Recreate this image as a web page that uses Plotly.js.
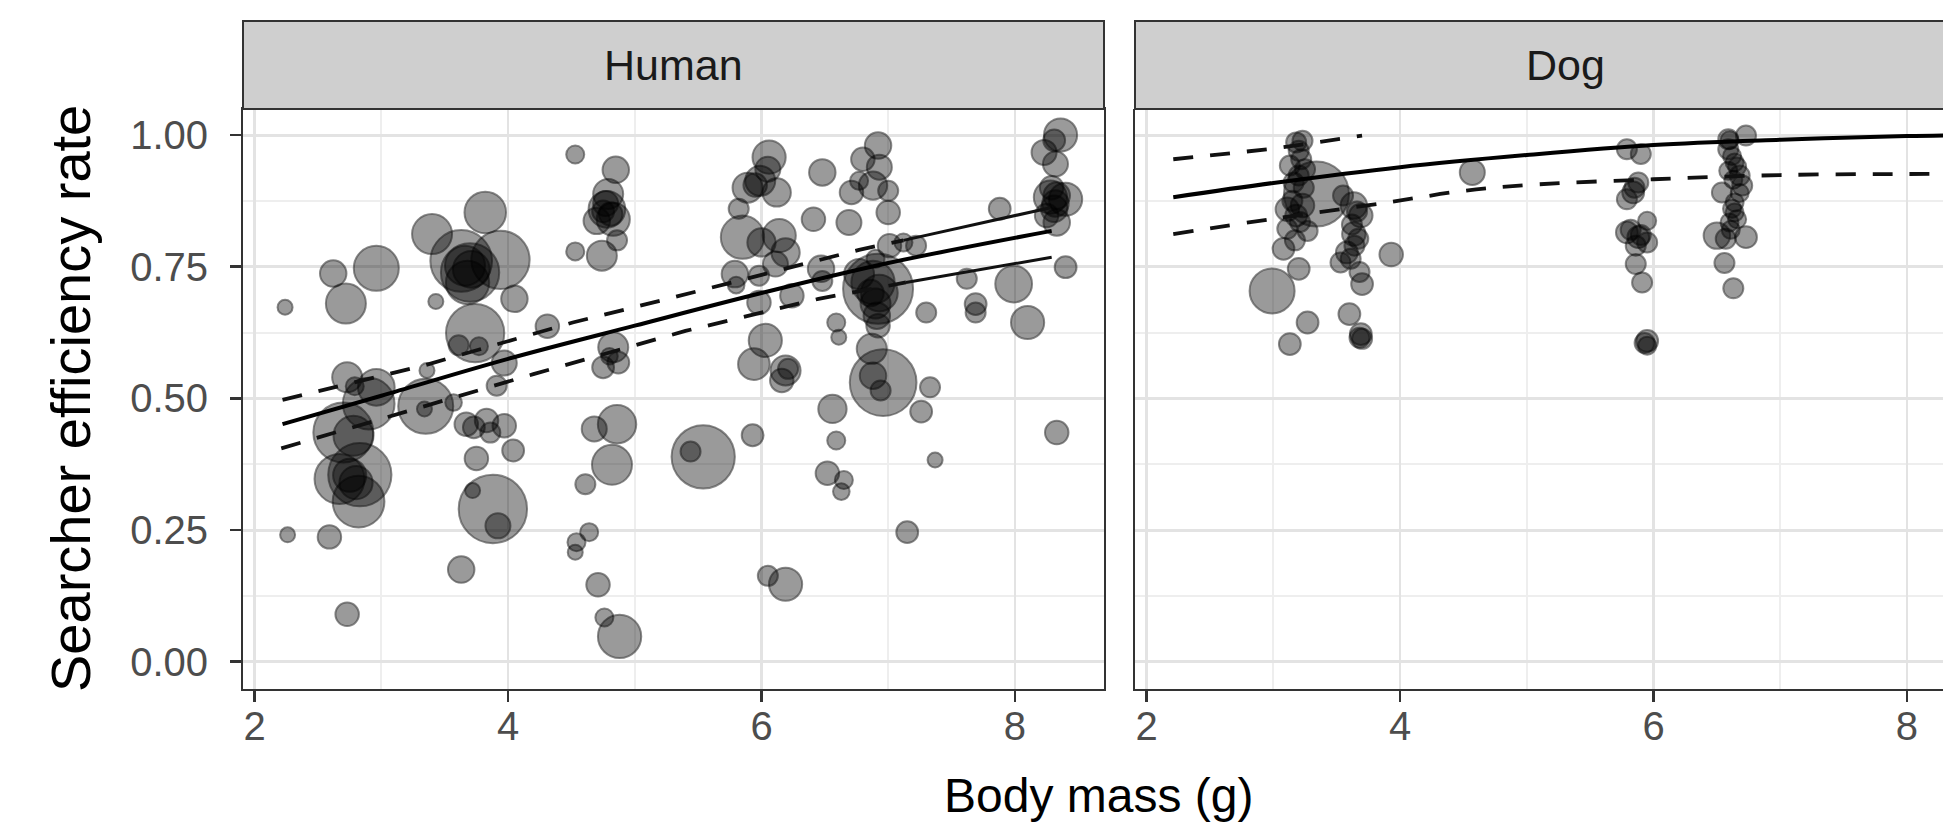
<!DOCTYPE html>
<html>
<head>
<meta charset="utf-8">
<script src="https://cdn.plot.ly/plotly-3.0.1.min.js"></script>
<style>
  html, body { margin: 0; padding: 0; background: #ffffff; }
  #chart { width: 1943px; height: 824px; }
</style>
</head>
<body>
<div id="chart"></div>
<script>
// ---------------- Data: Human panel ----------------
const humanMass = [
  2.24, 2.62, 2.72, 2.96, 3.40, 3.82, 3.94, 3.63, 3.70, 3.66, 3.68, 3.43, 4.05, 3.74, 3.61, 3.77, 3.97, 3.91, 4.31,
  4.53, 4.85, 4.78, 4.79, 4.70, 4.83, 4.86, 4.53, 4.74, 4.83, 4.75, 4.87, 4.80,
  2.73, 2.96, 2.79, 3.36,
  2.70, 2.78, 2.67, 2.82, 2.83, 2.75, 2.90, 3.35, 3.34, 3.57, 3.67, 3.73, 3.83, 3.86, 3.97, 4.04, 3.75,
  3.88, 3.92, 3.72, 3.63, 2.26, 2.59, 2.73,
  4.86, 4.68, 4.82, 4.61, 4.64, 4.54, 4.53, 4.71, 4.76, 4.88,
  5.54, 5.44, 5.93, 6.56, 7.26, 6.59, 7.37, 6.52, 6.65, 6.63, 7.15, 6.05, 6.19, 8.33,
  6.06, 6.05, 5.89, 5.99, 6.12, 5.82, 6.48, 6.92, 6.80, 6.93, 6.77, 6.88, 6.71, 7.00, 7.00,
  6.41, 6.69, 5.85, 6.00, 6.14, 6.19, 6.11, 5.79, 5.98, 5.80, 6.47, 6.48, 5.98, 6.24,
  6.59, 6.61, 6.03, 5.94, 6.19, 6.21, 6.16, 6.87, 6.96, 6.88, 6.94, 7.33,
  6.92, 6.88, 6.93, 6.91, 6.92, 6.77, 7.01, 7.22, 6.90, 7.12,
  7.62, 7.69, 7.69, 7.99, 8.10, 7.88, 7.30,
  8.36, 8.23, 8.32, 8.31, 8.28, 8.40, 8.33, 8.31, 8.33, 8.25, 8.40,
  4.77, 4.81, 4.75, 8.32, 8.29, 6.90, 6.86, 5.95, 3.71, 2.80
];
const humanRate = [
  0.673, 0.737, 0.680, 0.747, 0.812, 0.853, 0.763, 0.761, 0.739, 0.752, 0.720, 0.684, 0.689, 0.624, 0.601, 0.599, 0.567, 0.524, 0.637,
  0.963, 0.934, 0.859, 0.888, 0.837, 0.840, 0.800, 0.779, 0.771, 0.597, 0.559, 0.568, 0.580,
  0.540, 0.521, 0.523, 0.553,
  0.435, 0.429, 0.347, 0.304, 0.355, 0.354, 0.490, 0.485, 0.480, 0.492, 0.451, 0.445, 0.458, 0.435, 0.448, 0.401, 0.386,
  0.290, 0.258, 0.325, 0.175, 0.241, 0.237, 0.090,
  0.451, 0.442, 0.374, 0.337, 0.246, 0.227, 0.208, 0.146, 0.084, 0.048,
  0.389, 0.399, 0.430, 0.480, 0.475, 0.420, 0.383, 0.358, 0.345, 0.323, 0.246, 0.163, 0.147, 0.435,
  0.958, 0.935, 0.900, 0.913, 0.891, 0.860, 0.929, 0.980, 0.954, 0.939, 0.913, 0.904, 0.891, 0.894, 0.853,
  0.840, 0.834, 0.806, 0.796, 0.809, 0.777, 0.755, 0.736, 0.733, 0.715, 0.746, 0.723, 0.682, 0.695,
  0.644, 0.616, 0.610, 0.565, 0.553, 0.556, 0.534, 0.594, 0.530, 0.543, 0.515, 0.521,
  0.708, 0.720, 0.700, 0.657, 0.638, 0.736, 0.790, 0.790, 0.765, 0.796,
  0.727, 0.679, 0.663, 0.717, 0.644, 0.860, 0.663,
  1.000, 0.967, 0.945, 0.990, 0.882, 0.878, 0.885, 0.860, 0.834, 0.847, 0.749,
  0.870, 0.850, 0.855, 0.870, 0.900, 0.680, 0.700, 0.905, 0.745, 0.340
];
const humanTrials = [
  9, 28, 64, 81, 64, 69, 136, 152, 136, 64, 75, 9, 28, 136, 16, 13, 25, 16, 22,
  13, 28, 54, 36, 28, 44, 16, 13, 36, 36, 19, 19, 11,
  36, 54, 13, 9,
  144, 64, 100, 107, 160, 44, 107, 121, 9, 11, 22, 19, 22, 16, 22, 19, 22,
  187, 25, 9, 28, 9, 22, 22,
  59, 25, 64, 16, 13, 13, 9, 22, 13, 75,
  160, 16, 19, 32, 19, 13, 9, 22, 13, 11, 19, 16, 44, 22,
  44, 25, 36, 36, 32, 16, 28, 28, 22, 25, 13, 32, 22, 16, 22,
  22, 25, 75, 32, 44, 32, 25, 28, 16, 11, 28, 16, 22, 22,
  13, 9, 44, 40, 36, 16, 22, 36, 178, 28, 16, 16,
  196, 75, 54, 28, 22, 36, 22, 16, 13, 13,
  16, 19, 16, 54, 44, 19, 16,
  44, 25, 25, 19, 44, 44, 28, 28, 28, 22, 19,
  25, 22, 19, 28, 22, 36, 28, 22, 54, 44
];

// ---------------- Data: Dog panel ----------------
const dogMass = [
  3.18, 3.23, 3.13, 3.22, 3.25, 3.20, 3.34, 3.11, 3.23, 3.18, 3.11, 3.27, 3.08, 3.20, 2.99, 3.27, 3.13,
  3.635, 3.55, 3.69, 3.635, 3.67, 3.58, 3.53, 3.70, 3.60, 3.69, 3.70, 3.93, 4.57,
  5.79, 5.90, 5.88, 5.84, 5.79, 5.95, 5.79, 5.88, 5.95, 5.86, 5.91, 5.95, 5.95,
  6.59, 6.73, 6.59, 6.64, 6.59, 6.68, 6.70, 6.54, 6.64, 6.64, 6.60, 6.50, 6.73, 6.57, 6.56, 6.63,
  3.20, 3.16, 3.24, 3.15, 3.21, 3.17,
  3.66, 3.62, 3.64, 3.61, 3.68, 3.68,
  5.85, 5.82, 5.90, 5.86, 5.93,
  6.62, 6.66, 6.63, 6.68, 6.62, 6.66, 6.61, 6.60
];
const dogRate = [
  0.986, 0.989, 0.942, 0.954, 0.935, 0.923, 0.888, 0.859, 0.866, 0.847, 0.822, 0.818, 0.784, 0.746, 0.704, 0.644, 0.603,
  0.866, 0.885, 0.847, 0.812, 0.803, 0.777, 0.758, 0.717, 0.660, 0.622, 0.613, 0.773, 0.929,
  0.973, 0.964, 0.910, 0.891, 0.878, 0.837, 0.815, 0.806, 0.796, 0.755, 0.720, 0.609, 0.600,
  0.992, 0.999, 0.973, 0.948, 0.932, 0.923, 0.904, 0.891, 0.872, 0.853, 0.834, 0.809, 0.806, 0.803, 0.757, 0.709,
  0.970, 0.910, 0.900, 0.875, 0.835, 0.800,
  0.855, 0.830, 0.790, 0.765, 0.740, 0.615,
  0.900, 0.820, 0.810, 0.790, 0.605,
  0.960, 0.940, 0.915, 0.890, 0.860, 0.840, 0.820, 0.990
];
const dogTrials = [
  16, 16, 16, 16, 16, 16, 169, 22, 22, 19, 16, 16, 19, 19, 81, 19, 19,
  28, 16, 22, 22, 16, 19, 16, 19, 19, 19, 16, 22, 25,
  16, 16, 16, 19, 16, 13, 19, 19, 16, 16, 16, 19, 13,
  16, 16, 16, 13, 13, 16, 16, 16, 13, 13, 13, 28, 19, 16, 16, 16,
  16, 16, 16, 16, 16, 16,
  16, 16, 16, 16, 16, 16,
  16, 16, 16, 16, 16,
  13, 13, 13, 13, 13, 13, 13, 13
];

// ---------------- Model fits ----------------
const humanFitMass  = [2.22, 3.0, 4.0, 5.0, 6.0, 7.0, 8.29];
const humanFitRate  = [0.451, 0.505, 0.575, 0.638, 0.700, 0.757, 0.818];
const humanUpMass   = [2.22, 3.33, 4.51, 5.31, 6.77, 7.12, 8.28];
const humanUpRate   = [0.497, 0.562, 0.644, 0.692, 0.782, 0.800, 0.862];
const humanLoMass   = [2.21, 3.3, 4.2, 5.4, 6.45, 7.14, 8.29];
const humanLoRate   = [0.405, 0.482, 0.546, 0.628, 0.689, 0.720, 0.768];

const dogFitMass = [2.21, 3.0, 4.0, 5.0, 6.0, 7.0, 8.0, 8.5];
const dogFitRate = [0.882, 0.909, 0.939, 0.962, 0.981, 0.991, 0.998, 1.0];
const dogLoMass  = [2.21, 3.0, 3.9, 4.5, 5.0, 6.0, 7.0, 8.0, 8.5];
const dogLoRate  = [0.812, 0.841, 0.872, 0.894, 0.905, 0.916, 0.924, 0.926, 0.926];
const dogUpMass  = [2.21, 3.0, 3.70];
const dogUpRate  = [0.954, 0.974, 0.999];

const yTickVals = [0, 0.25, 0.5, 0.75, 1.0];
const yTickText = ['0.00', '0.25', '0.50', '0.75', '1.00'];
const xTickVals = [2, 4, 6, 8];
const panels = ['Human', 'Dog'];

// ---------------- Styling ----------------
const FONT = 'Liberation Sans, Arial, Helvetica, sans-serif';
const markerStyle = (sizes) => ({
  size: sizes, sizemode: 'area', sizeref: 0.08,
  color: 'rgba(0,0,0,0.56)',
  line: { color: 'rgba(0,0,0,0.66)', width: 2 }
});
const solidLine = { color: '#000000', width: 4 };
const dashLine  = { color: '#111111', width: 3.8, dash: '20px,17px' };
const thinLine  = { color: '#111111', width: 3 };

function splitAt(xs, ys, cut) {
  const a = { x: [], y: [] }, b = { x: [], y: [] };
  xs.forEach((x, i) => {
    if (x <= cut) { a.x.push(x); a.y.push(ys[i]); }
    if (x >= cut) { b.x.push(x); b.y.push(ys[i]); }
  });
  return [a, b];
}

const [hUpA, hUpB] = splitAt(humanUpMass, humanUpRate, 7.12);
const [hLoA, hLoB] = splitAt(humanLoMass, humanLoRate, 7.14);

const traces = [
  { type: 'scatter', mode: 'markers', x: humanMass, y: humanRate, xaxis: 'x', yaxis: 'y',
    marker: markerStyle(humanTrials), hoverinfo: 'x+y' },
  { type: 'scatter', mode: 'lines', x: hUpA.x, y: hUpA.y, xaxis: 'x', yaxis: 'y', line: dashLine },
  { type: 'scatter', mode: 'lines', x: hUpB.x, y: hUpB.y, xaxis: 'x', yaxis: 'y', line: thinLine },
  { type: 'scatter', mode: 'lines', x: hLoA.x, y: hLoA.y, xaxis: 'x', yaxis: 'y', line: dashLine },
  { type: 'scatter', mode: 'lines', x: hLoB.x, y: hLoB.y, xaxis: 'x', yaxis: 'y', line: thinLine },
  { type: 'scatter', mode: 'lines', x: humanFitMass, y: humanFitRate, xaxis: 'x', yaxis: 'y',
    line: Object.assign({ shape: 'spline' }, solidLine) },

  { type: 'scatter', mode: 'markers', x: dogMass, y: dogRate, xaxis: 'x2', yaxis: 'y2',
    marker: markerStyle(dogTrials), hoverinfo: 'x+y' },
  { type: 'scatter', mode: 'lines', x: dogUpMass, y: dogUpRate, xaxis: 'x2', yaxis: 'y2', line: dashLine },
  { type: 'scatter', mode: 'lines', x: dogLoMass, y: dogLoRate, xaxis: 'x2', yaxis: 'y2',
    line: Object.assign({ shape: 'spline' }, dashLine) },
  { type: 'scatter', mode: 'lines', x: dogFitMass, y: dogFitRate, xaxis: 'x2', yaxis: 'y2',
    line: Object.assign({ shape: 'spline' }, solidLine) }
];

const W = 1943, H = 824;
const panelTop = 109, panelBot = 689;
const yDom = [(H - panelBot) / H, (H - panelTop) / H];
const stripDom = [(H - panelTop) / H, (H - 21) / H];
const hDom = [243 / W, 1104 / W];
const dDom = [1135 / W, 1];
const xRange = [1.908, 8.703];
const dogRange = [1.908, 1.908 + (xRange[1] - xRange[0]) * (W - 1135) / (1104 - 243)];

const gridMajor = '#e3e3e3', gridMinor = '#eeeeee', axisCol = '#333333';

function xAxis(domain, range, anchor) {
  return {
    domain, range, anchor, tickvals: xTickVals, ticktext: xTickVals.map(String),
    showgrid: true, gridcolor: gridMajor, gridwidth: 2.5,
    minor: { tickvals: [3, 5, 7], showgrid: true, gridcolor: gridMinor, gridwidth: 2, ticks: '' },
    ticks: 'outside', ticklen: 11, tickwidth: 2.5, tickcolor: axisCol,
    tickfont: { family: FONT, size: 40, color: '#4d4d4d' },
    ticklabelstandoff: -10,
    showline: true, linecolor: axisCol, linewidth: 2, zeroline: false,
    fixedrange: true, automargin: false
  };
}
function yAxis(anchor, labels) {
  return {
    domain: yDom, range: [-0.0518, 1.0494], anchor,
    tickvals: yTickVals, ticktext: yTickText,
    showgrid: true, gridcolor: gridMajor, gridwidth: 3,
    minor: { tickvals: [0.125, 0.375, 0.625, 0.875], showgrid: true, gridcolor: gridMinor, gridwidth: 2, ticks: '' },
    ticks: labels ? 'outside' : '', ticklen: 11, tickwidth: 2.5, tickcolor: axisCol,
    showticklabels: labels,
    tickfont: { family: FONT, size: 40, color: '#4d4d4d' },
    ticklabelstandoff: 14,
    showline: true, linecolor: axisCol, linewidth: 2, zeroline: false,
    fixedrange: true, automargin: false
  };
}

const xa = xAxis(hDom, xRange, 'y');
xa.mirror = true;
const ya = yAxis('x', true);
ya.mirror = true;
const xa2 = xAxis(dDom, dogRange, 'y2');
const ya2 = yAxis('x2', false);

const layout = {
  width: W, height: H,
  margin: { l: 0, r: 0, t: 0, b: 0, pad: 0 },
  paper_bgcolor: '#ffffff', plot_bgcolor: '#ffffff',
  showlegend: false,
  font: { family: FONT },
  xaxis: xa, yaxis: ya, xaxis2: xa2, yaxis2: ya2,
  shapes: [
    { type: 'rect', xref: 'paper', yref: 'paper', x0: hDom[0], x1: hDom[1], y0: stripDom[0], y1: stripDom[1],
      fillcolor: '#cfcfcf', line: { color: axisCol, width: 2 }, layer: 'above' },
    { type: 'rect', xref: 'paper', yref: 'paper', x0: dDom[0], x1: 1.02, y0: stripDom[0], y1: stripDom[1],
      fillcolor: '#cfcfcf', line: { color: axisCol, width: 2 }, layer: 'above' }
  ],
  annotations: [
    { text: panels[0], xref: 'paper', yref: 'paper', x: (hDom[0] + hDom[1]) / 2, y: (stripDom[0] + stripDom[1]) / 2,
      xanchor: 'center', yanchor: 'middle', showarrow: false, font: { family: FONT, size: 43, color: '#1a1a1a' } },
    { text: panels[1], xref: 'x2', yref: 'paper', x: (xRange[0] + xRange[1]) / 2, y: (stripDom[0] + stripDom[1]) / 2,
      xanchor: 'center', yanchor: 'middle', showarrow: false, font: { family: FONT, size: 43, color: '#1a1a1a' } },
    { text: 'Searcher efficiency rate', xref: 'paper', yref: 'paper', x: 71 / W, y: (H - 399) / H,
      xanchor: 'center', yanchor: 'middle', textangle: -90, showarrow: false,
      font: { family: FONT, size: 56, color: '#000000' } },
    { text: 'Body mass (g)', xref: 'paper', yref: 'paper', x: 1098 / W, y: (H - 795) / H,
      xanchor: 'center', yanchor: 'middle', showarrow: false,
      font: { family: FONT, size: 48, color: '#000000' } }
  ]
};

Plotly.newPlot('chart', traces, layout, { staticPlot: true, displayModeBar: false });
</script>
</body>
</html>
